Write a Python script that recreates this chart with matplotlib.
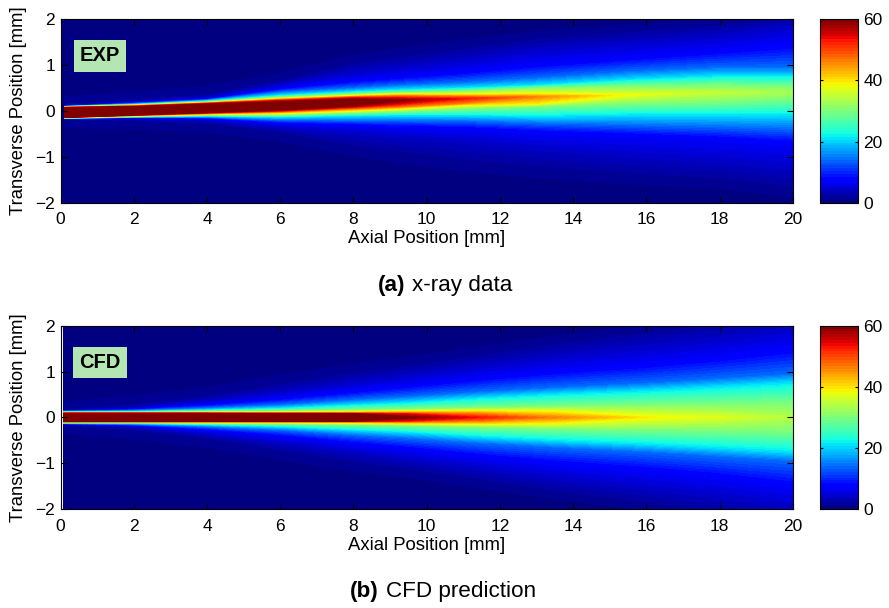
import numpy as np
import matplotlib
matplotlib.use('Agg')
import matplotlib.pyplot as plt
from matplotlib.cm import ScalarMappable
from matplotlib.colors import Normalize

plt.rcParams['font.family'] = ['Liberation Sans', 'DejaVu Sans']

W, H = 889, 608

# contour levels
levels_read = [1, 4, 7, 14, 21, 30, 39, 46, 53, 60]

# EXP: axial stations, centreline peak and y of each level above / below the jet core
exp_x = [0.1, 2, 4, 6, 8, 9.2, 11, 13, 15.5, 18, 20]
exp_peak = [65, 65, 65, 65, 64, 60, 53, 46, 38, 35, 33]
exp_upper = [
    [.125, .115, .11, .105, .10, .095, .09, .085, .08, .07],
    [.24, .20, .18, .16, .145, .135, .125, .115, .105, .095],
    [.38, .29, .26, .24, .22, .20, .185, .175, .165, .145],
    [.68, .58, .48, .41, .34, .30, .27, .25, .23, .195],
    [1.1, .85, .65, .50, .42, .37, .33, .31, .29, .25],
    [1.25, .95, .72, .56, .46, .40, .36, .33, .29, .23],
    [1.45, 1.12, .84, .62, .50, .43, .36, .32, .27, .27],
    [1.65, 1.35, 1.0, .72, .56, .50, .37, .31, .31, .31],
    [1.8, 1.5, 1.15, .86, .68, .54, .35, .35, .35, .35],
    [1.95, 1.65, 1.3, .95, .76, .55, .40, .40, .40, .40],
    [2.1, 1.85, 1.45, .95, .76, .52, .41, .41, .41, .41],
]
exp_lower = [
    [-.18, -.175, -.17, -.165, -.16, -.155, -.15, -.148, -.145, -.14],
    [-.22, -.17, -.15, -.14, -.13, -.12, -.11, -.10, -.095, -.087],
    [-.30, -.20, -.16, -.135, -.11, -.09, -.07, -.055, -.045, -.03],
    [-.50, -.36, -.26, -.19, -.13, -.09, -.045, -.02, 0, .03],
    [-.85, -.48, -.30, -.20, -.10, -.04, .01, .05, .08, .12],
    [-1.0, -.55, -.34, -.20, -.09, -.01, .05, .09, .14, .23],
    [-1.2, -.66, -.37, -.21, -.09, .05, .13, .17, .27, .27],
    [-1.35, -.82, -.45, -.26, -.11, .10, .16, .31, .31, .31],
    [-1.5, -.98, -.52, -.30, -.08, .16, .35, .35, .35, .35],
    [-1.6, -1.1, -.60, -.34, -.08, .20, .40, .40, .40, .40],
    [-1.8, -1.25, -.70, -.38, -.08, .27, .41, .41, .41, .41],
]

# CFD: symmetric about y=0, half width of each level
cfd_x = [0.08, 2, 4, 6, 8, 9.5, 11.5, 13.5, 16, 18, 20]
cfd_peak = [65, 65, 65, 65, 64, 60, 53, 46, 39.5, 37, 34]
cfd_half = [
    [.16, .15, .145, .135, .125, .115, .105, .10, .095, .09],
    [.30, .20, .175, .15, .13, .115, .105, .10, .095, .09],
    [.50, .36, .27, .20, .16, .13, .11, .10, .095, .085],
    [.78, .55, .40, .27, .20, .14, .11, .10, .09, .08],
    [1.05, .76, .56, .38, .27, .16, .12, .10, .09, .08],
    [1.2, .92, .68, .45, .32, .18, .13, .10, .08, 0],
    [1.45, 1.12, .85, .56, .42, .21, .14, .08, 0, 0],
    [1.7, 1.33, 1.0, .65, .50, .24, .12, 0, 0, 0],
    [1.95, 1.55, 1.15, .75, .58, .27, 0, 0, 0, 0],
    [2.2, 1.73, 1.3, .85, .66, .28, 0, 0, 0, 0],
    [2.5, 1.95, 1.5, .95, .75, .30, 0, 0, 0, 0],
]

x_ticks = [0, 2, 4, 6, 8, 10, 12, 14, 16, 18, 20]
y_ticks = [-2, -1, 0, 1, 2]
cbar_ticks = [0, 20, 40, 60]


def build_mesh(x, peak, lower, upper):
    # stack the level curves into one curved grid: bottom edge -> core -> top edge
    lower = np.array(lower).T
    upper = np.array(upper).T
    centre = (lower[-1] + upper[-1]) / 2
    n = len(x)
    Y = np.vstack([np.full(n, -3.0), lower, centre, upper[::-1], np.full(n, 3.0)])
    rows = [0] + levels_read + [100] + levels_read[::-1] + [0]
    # a level above the local peak has collapsed onto the centre line
    V = np.minimum.outer(np.array(rows, dtype=float), np.array(peak, dtype=float))
    X = np.tile(np.array(x, dtype=float), (Y.shape[0], 1))
    return X, Y, V


cmap = plt.get_cmap('jet', 64)
fill_levels = np.linspace(0, 60, 65)

fig = plt.figure(figsize=(W / 100, H / 100), dpi=100)


def draw_panel(top_px, X, Y, V, facecolor, tag):
    ax = fig.add_axes([60.5 / W, 1 - (top_px + 183.4) / H, 732.3 / W, 183.4 / H])
    ax.set_facecolor(facecolor)
    ax.contourf(X, Y, V, levels=fill_levels, cmap=cmap, vmin=0, vmax=60, extend='max')
    ax.set_xlim(0, 20)
    ax.set_ylim(-2, 2)
    ax.set_xticks(x_ticks)
    ax.set_yticks(y_ticks)
    ax.tick_params(direction='in', length=4.3, width=0.8, top=True, right=True, labelsize=12.5)
    ax.tick_params(axis='x', pad=7)
    ax.tick_params(axis='y', pad=4)
    ax.set_xlabel('Axial Position [mm]', fontsize=13.3, labelpad=2)
    ax.set_ylabel('Transverse Position [mm]', fontsize=13.3, labelpad=5.5)
    ax.text(1.08, 1.2, tag, fontsize=14.5, fontweight='bold', ha='center', va='center',
            bbox=dict(facecolor='#b3e6b3', edgecolor='none', pad=4.5))

    cax = fig.add_axes([820.3 / W, 1 - (top_px + 183.4) / H, 37.4 / W, 183.4 / H])
    sm = ScalarMappable(norm=Normalize(0, 60), cmap=cmap)
    cb = fig.colorbar(sm, cax=cax)
    cb.set_ticks(cbar_ticks)
    cax.tick_params(direction='in', length=2, width=0.8, left=True, right=True, labelsize=12.5, pad=4)
    return ax


X, Y, V = build_mesh(exp_x, exp_peak, exp_lower, exp_upper)
draw_panel(19.3, X, Y, V, cmap(0), 'EXP')

cfd_upper = np.array(cfd_half)
X, Y, V = build_mesh(cfd_x, cfd_peak, -cfd_upper, cfd_upper)
draw_panel(325.7, X, Y, V, 'white', 'CFD')

fig.text(405 / W, 1 - 285 / H, '(a)', fontsize=16.2, fontweight='bold', ha='right', va='center')
fig.text(412 / W, 1 - 285 / H, 'x-ray data', fontsize=16.2, ha='left', va='center')
fig.text(379 / W, 1 - 591 / H, '(b)', fontsize=16.2, fontweight='bold', ha='right', va='center')
fig.text(386 / W, 1 - 591 / H, 'CFD prediction', fontsize=16.2, ha='left', va='center')

fig.savefig('out.png', dpi=100)
